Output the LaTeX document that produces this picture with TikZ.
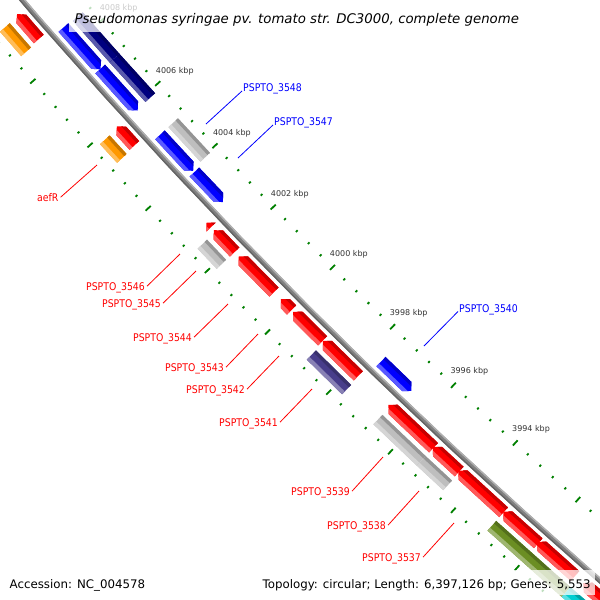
\documentclass[tikz,border=0pt]{standalone}
\usepackage{fontspec}
\setmainfont{DejaVu Sans}
\newfontfamily\lblfont[FakeStretch=0.88]{DejaVu Sans}
\definecolor{fred}{RGB}{255,0,0}
\definecolor{fblue}{RGB}{0,0,255}
\definecolor{fnavy}{RGB}{0,0,128}
\definecolor{fgray}{RGB}{190,190,190}
\definecolor{forange}{RGB}{255,153,0}
\definecolor{fslate}{RGB}{72,61,139}
\definecolor{folive}{RGB}{107,142,35}
\definecolor{fcyan}{RGB}{0,206,209}
\definecolor{tickgreen}{RGB}{0,128,0}
\definecolor{bbmid}{RGB}{128,128,128}
\definecolor{bblight}{RGB}{176,176,176}
\definecolor{bbdark}{RGB}{100,100,100}
\definecolor{kbptext}{RGB}{51,51,51}
\tikzset{
  tickmaj/.style={draw=tickgreen, line width=1.8pt},
  tickmin/.style={draw=tickgreen, line width=1.8pt},
  ticklbl/.style={font=\fontsize{8}{9.6}\selectfont, text=kbptext, inner sep=0pt},
  glabel/.style={font=\lblfont\fontsize{10.6}{12}\selectfont, inner sep=0pt, anchor=base west},
  gline/.style={line width=0.8pt},
  infotext/.style={font=\fontsize{11.8}{14}\selectfont, inner sep=0pt, anchor=base west},
  infobox/.style={fill=white, fill opacity=0.75},
}
% feature: #1 inner radius, #2 outer radius, (#3,#4) upper-left end, (#5,#6) lower-right end,
% #7 colour, #8 0 = block, 1 = arrow at upper-left end, 2 = arrow at lower-right end
\newcommand\cgFeat[8]{%
  \pgfmathsetmacro\cgaA{atan2(#4+3720,#3-4340)}%
  \pgfmathsetmacro\cgaB{atan2(#6+3720,#5-4340)}%
  \pgfmathsetmacro\cgrM{(#1+#2)/2}%
  \pgfmathsetmacro\cgha{372.42/\cgrM}%
  \pgfmathsetmacro\cgw{#2-#1}%
  \pgfmathsetmacro\cgrL{#2-0.3*\cgw}%
  \pgfmathsetmacro\cgrD{#1+0.25*\cgw}%
  \pgfmathsetmacro\cgrO{#2+1}%
  \pgfmathsetmacro\cgrI{#1-1}%
  \ifcase#8
    \def\cgshape{(\cgaA:#1) -- (\cgaB:#1) -- (\cgaB:#2) -- (\cgaA:#2) -- cycle}%
  \or
    \pgfmathsetmacro\cgaH{max(\cgaA-\cgha,\cgaB)}%
    \def\cgshape{(\cgaB:#1) -- (\cgaH:#1) -- (\cgaA:\cgrM) -- (\cgaH:#2) -- (\cgaB:#2) -- cycle}%
  \or
    \pgfmathsetmacro\cgaH{min(\cgaB+\cgha,\cgaA)}%
    \def\cgshape{(\cgaA:#1) -- (\cgaH:#1) -- (\cgaB:\cgrM) -- (\cgaH:#2) -- (\cgaA:#2) -- cycle}%
  \fi
  \fill[#7] \cgshape;
  \begin{scope}
    \clip \cgshape;
    \fill[#7!65!white] (\cgaA:\cgrL) -- (\cgaB:\cgrL) -- (\cgaB:\cgrO) -- (\cgaA:\cgrO) -- cycle;
    \fill[#7!78!black] (\cgaA:\cgrI) -- (\cgaB:\cgrI) -- (\cgaB:\cgrD) -- (\cgaA:\cgrD) -- cycle;
  \end{scope}
}
\begin{document}
\begin{tikzpicture}[x=1pt,y=-1pt]
\useasboundingbox (0,0) rectangle (600,600);
\fill[white] (0,0) rectangle (600,600);
\begin{scope}
\clip (0,0) rectangle (600,600);
\begin{scope}[shift={(4340,-3720)}]
  % tick rings
  \foreach \i in {0,...,60}{
    \pgfmathsetmacro\kb{4010-0.4*\i}
    \pgfmathsetmacro\ang{135.145+0.42829*(\kb-4000)}
    \pgfmathtruncatemacro\md{mod(\i,5)}
    \ifnum\md=0
      \draw[tickmaj] (\ang:5650) -- (\ang:5657);
      \draw[tickmaj] (\ang:5741.5) -- (\ang:5748.5);
    \else
      \draw[tickmin] (\ang:5652.3) -- (\ang:5654.7);
      \draw[tickmin] (\ang:5743.8) -- (\ang:5746.2);
    \fi
  }
  % backbone
  \draw[bbmid, line width=5pt] plot[domain=129.5:140, samples=80, variable=\t] (\t:5699.5);
  \draw[bblight, line width=1.4pt] plot[domain=129.5:140, samples=80, variable=\t] (\t:5697.6);
  \draw[bbdark, line width=1.4pt] plot[domain=129.5:140, samples=80, variable=\t] (\t:5701.4);
  % outer ring 1 (red, direct strand)
  \cgFeat{5706}{5719}{16}{15}{38.4}{39.4}{fred}{1}
  \cgFeat{5706}{5719}{116}{127}{134.4}{145.4}{fred}{1}
  \cgFeat{5706}{5719}{206}{223}{210.6}{227.6}{fred}{1}
  \cgFeat{5706}{5719}{213.3}{230.7}{234.7}{252.1}{fred}{1}
  \cgFeat{5706}{5719}{238.3}{256.7}{273.7}{292.5}{fred}{1}
  \cgFeat{5706}{5719}{280.7}{299.3}{291.1}{310.4}{fred}{1}
  \cgFeat{5706}{5719}{293.3}{311.7}{322.1}{341.4}{fred}{1}
  \cgFeat{5706}{5719}{322.7}{341}{358.7}{375.4}{fred}{1}
  \cgFeat{5706}{5719}{388.3}{405}{432.7}{448.7}{fred}{1}
  \cgFeat{5706}{5719}{432.7}{447}{458.7}{472.1}{fred}{1}
  \cgFeat{5706}{5719}{458.3}{470.7}{503.7}{512.4}{fred}{1}
  \cgFeat{5706}{5719}{503.3}{511.7}{537.9}{543.7}{fred}{1}
  \cgFeat{5706}{5719}{537}{542}{575}{576}{fred}{1}
  \cgFeat{5706}{5719}{586.5}{579.5}{640}{630}{fred}{1}
  % outer ring 2
  \cgFeat{5724}{5737}{4.6}{27.6}{25.4}{52.4}{forange}{0}
  \cgFeat{5724}{5737}{103.9}{140.6}{121.4}{158.7}{forange}{0}
  \cgFeat{5724}{5737}{201.9}{244.6}{221.1}{264.7}{fgray}{0}
  \cgFeat{5724}{5737}{311}{355.3}{346.1}{390}{fslate}{0}
  \cgFeat{5724}{5737}{377.9}{419.6}{421.5}{460.5}{fgray}{0}
  \cgFeat{5724}{5737}{421.5}{460.5}{447.1}{486.1}{fgray}{0}
  \cgFeat{5724}{5737}{491.7}{525.8}{567}{591}{folive}{0}
  \cgFeat{5724}{5737}{567}{591}{640}{660}{fcyan}{0}
  % inner ring 1 (blue, reverse strand)
  \cgFeat{5680}{5693}{63}{28}{101.7}{68.3}{fblue}{2}
  \cgFeat{5680}{5693}{99.6}{69.6}{138.3}{110}{fblue}{2}
  \cgFeat{5680}{5693}{159.6}{135.3}{193.3}{170.7}{fblue}{2}
  \cgFeat{5680}{5693}{194.6}{171.9}{223.3}{201.7}{fblue}{2}
  \cgFeat{5680}{5693}{381.3}{361.3}{411.7}{390.7}{fblue}{2}
  % inner ring 2
  \cgFeat{5662}{5675}{74.6}{19.6}{114.5}{58}{fnavy}{0}
  \cgFeat{5662}{5675}{114.5}{58}{150.4}{97.4}{fnavy}{0}
  \cgFeat{5662}{5675}{172.9}{122.9}{205.4}{157.1}{fgray}{0}
  % tick labels
  \foreach \k in {4008,4006,4004,4002,4000,3998,3996,3994}{
    \pgfmathsetmacro\ang{135.145+0.42829*(\k-4000)}
    \node[ticklbl, xshift=1.5pt, yshift=-1.5pt] (t\k) at (\ang:5632.5) {\k\ kbp};
  }
\end{scope}
\end{scope}
% gene labels
\node[glabel, text=fblue] (l3548) at (243,91.5) {PSPTO\_3548};
\node[glabel, text=fblue] (l3547) at (274,125.5) {PSPTO\_3547};
\node[glabel, text=fblue] (l3540) at (459,312) {PSPTO\_3540};
\node[glabel, text=fred] (laefR) at (37,201) {aefR};
\node[glabel, text=fred] (l3546) at (86,290) {PSPTO\_3546};
\node[glabel, text=fred] (l3545) at (102,307) {PSPTO\_3545};
\node[glabel, text=fred] (l3544) at (133,341) {PSPTO\_3544};
\node[glabel, text=fred] (l3543) at (165,371) {PSPTO\_3543};
\node[glabel, text=fred] (l3542) at (186,393) {PSPTO\_3542};
\node[glabel, text=fred] (l3541) at (219,426) {PSPTO\_3541};
\node[glabel, text=fred] (l3539) at (291,495) {PSPTO\_3539};
\node[glabel, text=fred] (l3538) at (327,529) {PSPTO\_3538};
\node[glabel, text=fred] (l3537) at (362,561) {PSPTO\_3537};
\coordinate (e3548) at (206,124);
\coordinate (e3547) at (238,158);
\coordinate (e3540) at (424,346);
\coordinate (eaefR) at (97,165);
\coordinate (e3546) at (180,254);
\coordinate (e3545) at (196,271);
\coordinate (e3544) at (228,304);
\coordinate (e3543) at (258,334);
\coordinate (e3542) at (279,356);
\coordinate (e3541) at (312,389);
\coordinate (e3539) at (383,457);
\coordinate (e3538) at (419,491);
\coordinate (e3537) at (454,523);
\draw[gline, fblue] (e3548) -- ([xshift=-1pt, yshift=0.5pt]l3548.base west);
\draw[gline, fblue] (e3547) -- ([xshift=-1pt, yshift=0.5pt]l3547.base west);
\draw[gline, fblue] (e3540) -- ([xshift=-1pt, yshift=0.5pt]l3540.base west);
\foreach \g in {aefR,3546,3545,3544,3543,3542,3541,3539,3538,3537}{
  \draw[gline, fred] ([xshift=2pt, yshift=3.8pt]l\g.base east) -- (e\g);
}
% title and info
\fill[infobox] (69,4) rectangle (532,32);
\node[anchor=base west, inner sep=0pt, font=\fontsize{13.3}{16}\selectfont\itshape] (title) at (74.5,23.5) {Pseudomonas syringae pv. tomato str. DC3000, complete genome};
\fill[infobox] (256,570) rectangle (595,595);
\node[infotext] (acc) at (9.5,588.3) {Accession: NC\_004578};
\node[infotext] (topo) at (262.5,588.3) {Topology: circular; Length: 6,397,126 bp; Genes: 5,553};
\end{tikzpicture}
\end{document}
